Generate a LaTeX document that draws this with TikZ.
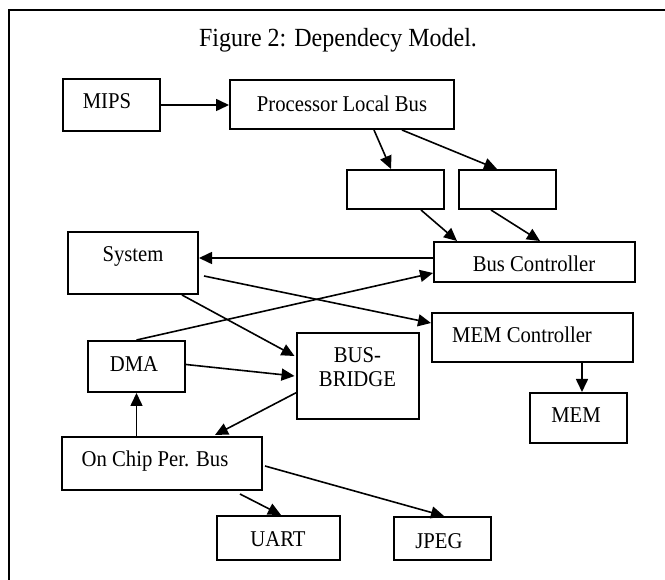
\documentclass[tikz,border=0pt]{standalone}
\usepackage{fontspec}
\setmainfont{Liberation Serif}
\usetikzlibrary{arrows.meta,calc}
% labels are set slightly taller than wide
\newcommand{\tall}[1]{\scalebox{1}[1.09]{#1}}
\tikzset{
  box/.style={draw, line width=2pt, inner sep=0pt, anchor=center},
  txt/.style={anchor=base, inner sep=0pt, font=\fontsize{20.7}{25}\selectfont},
  conn/.style={line width=1.6pt, -{Triangle[length=13pt,width=12pt]}},
}
\begin{document}
\begin{tikzpicture}[x=1pt, y=-1pt]
\useasboundingbox (0,0) rectangle (665,580);
% outer frame (only the top and left edges lie inside the page)
\draw[line width=2.5pt] (9,590) -- (9,10) -- (675,10);

% title
\node[anchor=base, inner sep=0pt, font=\fontsize{24}{28}\selectfont] (title) at (338,47) {\tall{Figure 2: Dependecy Model.}};

% blocks
\node[box, minimum width=97pt,  minimum height=52pt] (mips) at (111.5,105)   {};
\node[box, minimum width=224pt, minimum height=49pt] (plb)  at (342,104.5)   {};
\node[box, minimum width=97pt,  minimum height=39pt] (b1)   at (395.5,189.5) {};
\node[box, minimum width=97pt,  minimum height=39pt] (b2)   at (507.5,189.5) {};
\node[box, minimum width=201pt, minimum height=40pt] (busc) at (534.5,262)   {};
\node[box, minimum width=130pt, minimum height=62pt] (sys)  at (133,263)     {};
\node[box, minimum width=201pt, minimum height=49pt] (memc) at (532.5,337.5) {};
\node[box, minimum width=97pt,  minimum height=51pt] (dma)  at (136.5,366.5) {};
\node[box, minimum width=122pt, minimum height=86pt] (bb)   at (357.5,376)   {};
\node[box, minimum width=97pt,  minimum height=50pt] (mem)  at (578.5,418)   {};
\node[box, minimum width=200pt, minimum height=53pt] (ocpb) at (162,463.5)   {};
\node[box, minimum width=123pt, minimum height=44pt] (uart) at (278.5,538)   {};
\node[box, minimum width=97pt,  minimum height=43pt] (jpeg) at (442.5,538.5) {};

% block labels
\node[txt] (mipsT) at (107,109) {\tall{MIPS}};
\node[txt] (plbT)  at (342,111.5) {\tall{Processor Local Bus}};
\node[txt] (buscT) at (534,272) {\tall{Bus Controller}};
\node[txt] (sysT)  at (133,262) {\tall{System}};
\node[txt] (memcT) at (522,343) {\tall{MEM Controller}};
\node[txt] (dmaT)  at (134,372) {\tall{DMA}};
\node[txt] (bbT1)  at (357.5,363) {\tall{BUS-}};
\node[txt] (bbT2)  at (357.5,387) {\tall{BRIDGE}};
\node[txt] (memT)  at (576,423) {\tall{MEM}};
\node[txt] (ocpbT) at (155,467) {\tall{On Chip Per. Bus}};
\node[txt] (uartT) at (278,546) {\tall{UART}};
\node[txt] (jpegT) at (439,548) {\tall{JPEG}};

% connectors
\draw[conn] (mips.east) -- (plb.west |- mips.east);
\draw[conn] ($(plb.south west)+(145,0)$) -- ($(b1.north west)+(45,0)$);
\draw[conn] ($(plb.south west)+(173,0)$) -- ($(b2.north west)+(39,0)$);
\draw[conn] ($(b1.south west)+(75,0)$) -- ($(busc.north west)+(24,0)$);
\draw[conn] ($(b2.south west)+(33,0)$) -- ($(busc.north west)+(107,0)$);
\draw[conn] ($(busc.north west)+(0,17)$) -- ($(sys.north east)+(0,27)$);
\draw[conn] (dma.north) -- ($(busc.south west)+(0,-10)$);
\draw[conn] ($(sys.north east)+(5,45)$) -- ($(memc.north west)+(0,11)$);
\draw[conn] ($(sys.south west)+(115,0)$) -- ($(bb.north west)+(-1,24)$);
\draw[conn] ($(dma.east)+(0,-2)$) -- ($(bb.north west)+(-1,44)$);
\draw[conn] ($(bb.north west)+(2,60)$) -- ($(ocpb.north west)+(154,-1)$);
\draw[conn] (ocpb.north -| dma.south) -- (dma.south);
\draw[conn] ($(memc.south west)+(151,0)$) -- ($(mem.north west)+(53,0)$);
\draw[conn] ($(ocpb.south west)+(179,3)$) -- ($(uart.north west)+(65,0)$);
\draw[conn] ($(ocpb.north east)+(2,30)$) -- ($(jpeg.north west)+(51,0)$);
\end{tikzpicture}
\end{document}
